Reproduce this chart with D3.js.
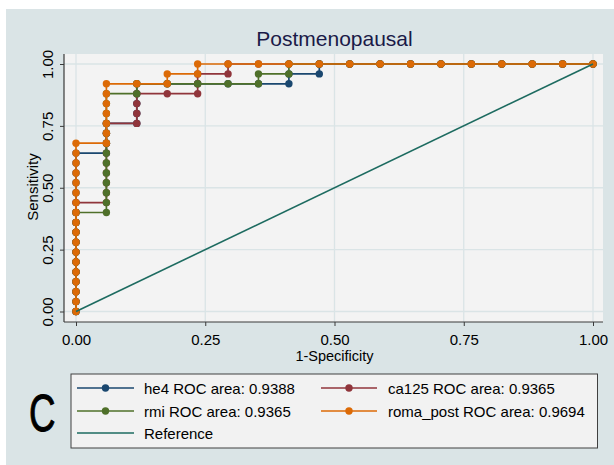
<!DOCTYPE html>
<html>
<head>
<meta charset="utf-8">
<script src="https://cdn.jsdelivr.net/npm/d3@7"></script>
<style>
  html, body { margin: 0; padding: 0; background: #ffffff; }
  svg { display: block; }
  text { font-family: "Liberation Sans", Arial, sans-serif; }
</style>
</head>
<body>
<svg id="chart" width="614" height="465"></svg>
<script>
// ---------------- DATA ----------------
const chartTitle = "Postmenopausal";
const xTitle = "1-Specificity";
const yTitle = "Sensitivity";
const xTicks = [0, 0.25, 0.5, 0.75, 1];
const yTicks = [0, 0.25, 0.5, 0.75, 1];
const seriesNames = ["he4", "ca125", "rmi", "roma_post"];
const rocAreas = ["0.9388", "0.9365", "0.9365", "0.9694"];
const seriesColors = ["#1a476f", "#90353b", "#4f702a", "#dc6a06"];
const refColor = "#1d6b60";

// points [1-specificity, sensitivity]
const he4Points = [
  [0,0],[0,.04],[0,.08],[0,.12],[0,.16],[0,.20],[0,.24],[0,.28],[0,.32],[0,.36],[0,.40],[0,.44],[0,.48],[0,.52],[0,.56],[0,.60],[0,.64],
  [.0588,.64],[.0588,.68],[.0588,.72],[.0588,.76],
  [.1176,.76],[.1176,.80],[.1176,.84],[.1176,.88],[.1176,.92],
  [.1765,.92],[.2353,.92],[.2941,.92],[.3529,.92],
  [.4118,.92],[.4118,.96],
  [.4706,.96],[.4706,1],
  [.5294,1],[.5882,1],[.6471,1],[.7059,1],[.7647,1],[.8235,1],[.8824,1],[.9412,1],[1,1]
];
const ca125Points = [
  [0,0],[0,.04],[0,.08],[0,.12],[0,.16],[0,.20],[0,.24],[0,.28],[0,.32],[0,.36],[0,.40],[0,.44],
  [.0588,.44],[.0588,.48],[.0588,.52],[.0588,.56],[.0588,.60],[.0588,.64],[.0588,.68],[.0588,.72],[.0588,.76],
  [.1176,.76],[.1176,.80],[.1176,.84],[.1176,.88],
  [.1765,.88],
  [.2353,.88],[.2353,.92],[.2353,.96],
  [.2941,.96],[.2941,1],
  [.3529,1],[.4118,1],[.4706,1],[.5294,1],[.5882,1],[.6471,1],[.7059,1],[.7647,1],[.8235,1],[.8824,1],[.9412,1],[1,1]
];
const rmiPoints = [
  [0,0],[0,.04],[0,.08],[0,.12],[0,.16],[0,.20],[0,.24],[0,.28],[0,.32],[0,.36],[0,.40],
  [.0588,.40],[.0588,.44],[.0588,.48],[.0588,.52],[.0588,.56],[.0588,.60],[.0588,.64],[.0588,.68],[.0588,.72],[.0588,.76],[.0588,.80],[.0588,.84],[.0588,.88],
  [.1176,.88],[.1176,.92],
  [.1765,.92],[.2353,.92],[.2941,.92],
  [.3529,.92],[.3529,.96],
  [.4118,.96],[.4118,1],
  [.4706,1],[.5294,1],[.5882,1],[.6471,1],[.7059,1],[.7647,1],[.8235,1],[.8824,1],[.9412,1],[1,1]
];
const romaPostPoints = [
  [0,0],[0,.04],[0,.08],[0,.12],[0,.16],[0,.20],[0,.24],[0,.28],[0,.32],[0,.36],[0,.40],[0,.44],[0,.48],[0,.52],[0,.56],[0,.60],[0,.64],[0,.68],
  [.0588,.68],[.0588,.72],[.0588,.76],[.0588,.80],[.0588,.84],[.0588,.88],[.0588,.92],
  [.1176,.92],
  [.1765,.92],[.1765,.96],
  [.2353,.96],[.2353,1],
  [.2941,1],[.3529,1],[.4118,1],[.4706,1],[.5294,1],[.5882,1],[.6471,1],[.7059,1],[.7647,1],[.8235,1],[.8824,1],[.9412,1],[1,1]
];
const referencePoints = [[0,0],[1,1]];
const allSeries = [he4Points, ca125Points, rmiPoints, romaPostPoints];

// ---------------- LAYOUT ----------------
const svg = d3.select("#chart");
const bgColor = "#dae4e6";
const plotFill = "#f3f3f3";
const gridColor = "#dae4e6";
const axisColor = "#3a3a3a";
const plotBox = { left: 64, right: 603, top: 54, bottom: 322 };

const x = d3.scaleLinear().domain([0, 1]).range([76, 593]);
const y = d3.scaleLinear().domain([0, 1]).range([311.5, 64]);

svg.append("rect").attr("x", 0).attr("y", 0).attr("width", 614).attr("height", 465).attr("fill", "#ffffff");
svg.append("rect").attr("x", 6).attr("y", 9).attr("width", 608).attr("height", 456).attr("fill", bgColor);
svg.append("rect")
  .attr("x", plotBox.left).attr("y", plotBox.top)
  .attr("width", plotBox.right - plotBox.left).attr("height", plotBox.bottom - plotBox.top)
  .attr("fill", plotFill);

// gridlines
const grid = svg.append("g");
grid.selectAll("line.gy").data(yTicks).join("line")
  .attr("x1", plotBox.left).attr("x2", plotBox.right)
  .attr("y1", d => y(d)).attr("y2", d => y(d))
  .attr("stroke", gridColor).attr("stroke-width", 1.3);
grid.selectAll("line.gx").data(xTicks).join("line")
  .attr("y1", plotBox.top).attr("y2", plotBox.bottom)
  .attr("x1", d => x(d)).attr("x2", d => x(d))
  .attr("stroke", gridColor).attr("stroke-width", 1.3);

// axes
const xAxis = svg.append("g").attr("transform", `translate(0,${plotBox.bottom})`)
  .call(d3.axisBottom(x).tickValues(xTicks).tickFormat(d3.format(".2f")).tickSize(4).tickPadding(8));
xAxis.select(".domain").remove();
xAxis.selectAll("line").attr("stroke", axisColor);
xAxis.selectAll("text").attr("font-size", 15).attr("fill", "#000").attr("font-family", "Liberation Sans, Arial, sans-serif");

const yAxis = svg.append("g").attr("transform", `translate(${plotBox.left},0)`)
  .call(d3.axisLeft(y).tickValues(yTicks).tickFormat(d3.format(".2f")).tickSize(4));
yAxis.select(".domain").remove();
yAxis.selectAll("line").attr("stroke", axisColor);
yAxis.selectAll("text")
  .attr("x", null).attr("dy", null)
  .attr("transform", "translate(-11,0) rotate(-90)")
  .attr("text-anchor", "middle")
  .attr("font-size", 15).attr("fill", "#000").attr("font-family", "Liberation Sans, Arial, sans-serif");

svg.append("line").attr("x1", plotBox.left).attr("x2", plotBox.right)
  .attr("y1", plotBox.bottom).attr("y2", plotBox.bottom).attr("stroke", axisColor).attr("stroke-width", 1.2);
svg.append("line").attr("x1", plotBox.left).attr("x2", plotBox.left)
  .attr("y1", plotBox.top).attr("y2", plotBox.bottom).attr("stroke", axisColor).attr("stroke-width", 1.2);

// titles
svg.append("text").attr("x", 334.5).attr("y", 46).attr("text-anchor", "middle")
  .attr("font-size", 21).attr("fill", "#1a1a48").text(chartTitle);
svg.append("text").attr("x", 334.5).attr("y", 361).attr("text-anchor", "middle")
  .attr("font-size", 14.5).attr("fill", "#000").text(xTitle);
svg.append("text").attr("transform", "translate(38,187) rotate(-90)").attr("text-anchor", "middle")
  .attr("font-size", 15).attr("fill", "#000").text(yTitle);

// series
const line = d3.line().x(d => x(d[0])).y(d => y(d[1]));
allSeries.forEach((pts, i) => {
  const g = svg.append("g");
  g.append("path").datum(pts).attr("d", line)
    .attr("fill", "none").attr("stroke", seriesColors[i]).attr("stroke-width", 1.7);
  g.selectAll("circle").data(pts).join("circle")
    .attr("cx", d => x(d[0])).attr("cy", d => y(d[1])).attr("r", 3.7)
    .attr("fill", seriesColors[i]);
});
svg.append("path").datum(referencePoints).attr("d", line)
  .attr("fill", "none").attr("stroke", refColor).attr("stroke-width", 1.6);

// legend
const leg = svg.append("g");
leg.append("rect").attr("x", 71).attr("y", 374).attr("width", 526.5).attr("height", 74)
  .attr("fill", "#f2f2f2").attr("stroke", "#404040").attr("stroke-width", 1);
const legendItems = [
  { label: `${seriesNames[0]} ROC area: ${rocAreas[0]}`, color: seriesColors[0], marker: true, col: 0, row: 0 },
  { label: `${seriesNames[1]} ROC area: ${rocAreas[1]}`, color: seriesColors[1], marker: true, col: 1, row: 0 },
  { label: `${seriesNames[2]} ROC area: ${rocAreas[2]}`, color: seriesColors[2], marker: true, col: 0, row: 1 },
  { label: `${seriesNames[3]} ROC area: ${rocAreas[3]}`, color: seriesColors[3], marker: true, col: 1, row: 1 },
  { label: "Reference", color: refColor, marker: false, col: 0, row: 2 }
];
const colX = [{ l1: 77, l2: 134, t: 144 }, { l1: 321, l2: 377, t: 388 }];
const rowY = [388, 411, 433];
legendItems.forEach(it => {
  const c = colX[it.col], ry = rowY[it.row];
  leg.append("line").attr("x1", c.l1).attr("x2", c.l2).attr("y1", ry).attr("y2", ry)
    .attr("stroke", it.color).attr("stroke-width", 1.7);
  if (it.marker) {
    leg.append("circle").attr("cx", (c.l1 + c.l2) / 2).attr("cy", ry).attr("r", 3.7).attr("fill", it.color);
  }
  leg.append("text").attr("x", c.t).attr("y", ry + 5.5).attr("font-size", 15).attr("fill", "#000").text(it.label);
});

// panel letter
svg.append("text").attr("transform", "translate(29,431) scale(0.72,1)")
  .attr("font-family", "Liberation Serif, Times New Roman, serif")
  .attr("font-size", 51).attr("fill", "#000")
  .attr("stroke", "#000").attr("stroke-width", 0.9)
  .text("C");
</script>
</body>
</html>
